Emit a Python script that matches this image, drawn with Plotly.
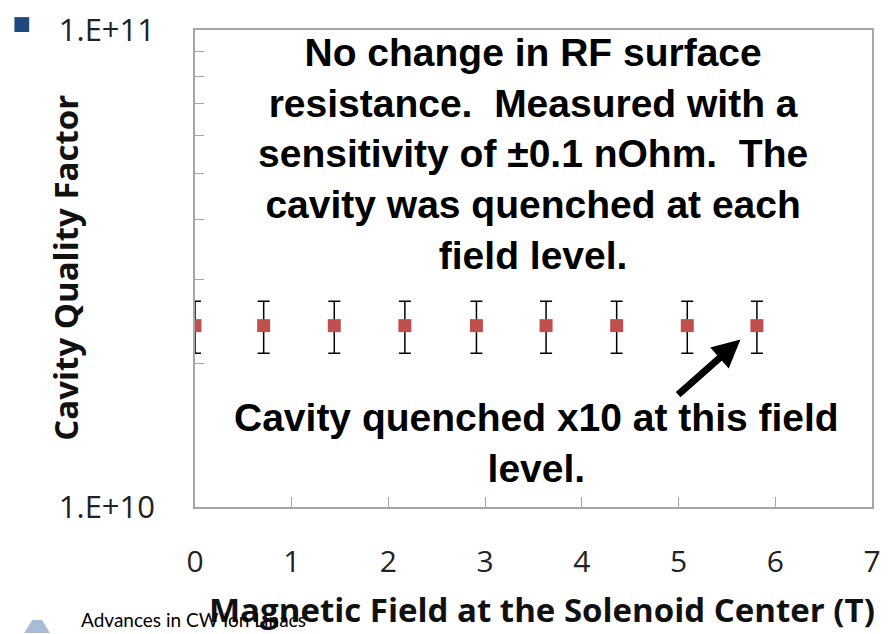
import plotly.graph_objects as go
import numpy as np

# Field at the solenoid centre (T) and measured cavity Q0
field_T = [0.0, 0.71, 1.44, 2.17, 2.91, 3.63, 4.36, 5.09, 5.81]
quality_factor = [2.4e10] * 9
q_error = [0.3e10] * 9

x_ticks = [0, 1, 2, 3, 4, 5, 6, 7]
y_ticks = [1e10, 1e11]
y_tick_labels = ["1.E+10", "1.E+11"]
y_minor = [2e10, 3e10, 4e10, 5e10, 6e10, 7e10, 8e10, 9e10]

note_main = ("No change in RF surface<br>resistance.  Measured with a<br>"
             "sensitivity of \u00b10.1 nOhm.  The<br>cavity was quenched at each<br>field level.")
note_quench = "Cavity quenched x10 at this field<br>level."

axis_grey = "#A6A6A6"
label_font = "'Open Sans', Lato, sans-serif"
note_font = "'Liberation Sans', Arial, sans-serif"

# plot-area size in pixels, used to place items outside the axes
PW, PH = 686, 481

fig = go.Figure()
fig.add_trace(go.Scatter(
    x=field_T, y=quality_factor, mode="markers",
    marker=dict(symbol="square", size=13, color="#C0504D"),
    error_y=dict(type="data", array=q_error, symmetric=True,
                 color="black", thickness=1.5, width=6),
    showlegend=False,
))

fig.update_layout(
    width=889, height=634,
    margin=dict(l=195, r=8, t=26, b=127),
    paper_bgcolor="white", plot_bgcolor="white",
    xaxis=dict(
        range=[0, 7], tickvals=x_ticks, ticks="inside", ticklen=10,
        tickcolor=axis_grey, linecolor=axis_grey, linewidth=1.5, mirror=True,
        showgrid=False, zeroline=False, ticklabelstandoff=27,
        tickfont=dict(family=label_font, size=30, color="#222"),
    ),
    yaxis=dict(
        type="log", range=[10, 11], tickvals=y_ticks, ticktext=y_tick_labels,
        ticks="", linecolor=axis_grey, linewidth=1.5, mirror=True,
        showgrid=False, zeroline=False, ticklabelstandoff=32,
        tickfont=dict(family=label_font, size=31, color="#222"),
        minor=dict(tickvals=y_minor, ticks="inside", ticklen=9,
                   tickcolor=axis_grey, showgrid=False),
    ),
)

# Axis titles
fig.add_annotation(
    x=(547 - 195) / PW, y=-(610 - 507) / PH, xref="paper", yref="paper",
    text="<b>Magnetic Field at the Solenoid Center (T)</b>", showarrow=False,
    xanchor="center", yanchor="middle",
    font=dict(family=label_font, size=33, color="#111"),
)
fig.add_annotation(
    x=(63 - 195) / PW, y=(507 - 266) / PH, xref="paper", yref="paper",
    text="<b>Cavity Quality Factor</b>", showarrow=False, textangle=-90,
    xanchor="center", yanchor="middle",
    font=dict(family=label_font, size=33, color="#111"),
)

# Text notes in the plot area
fig.add_annotation(
    x=(537 - 195) / PW, y=(507 - 151) / PH, xref="paper", yref="paper",
    text="<b>" + note_main + "</b>",
    showarrow=False, align="center", xanchor="center", yanchor="middle",
    font=dict(family=note_font, size=39, color="black"),
)
fig.add_annotation(
    x=(541 - 195) / PW, y=(507 - 442) / PH, xref="paper", yref="paper",
    text="<b>" + note_quench + "</b>",
    showarrow=False, align="center", xanchor="center", yanchor="middle",
    font=dict(family=note_font, size=39, color="black"),
)
# Arrow pointing at the last (quenched) field level
fig.add_annotation(
    x=5.64, y=np.log10(2.245e10), ax=4.98, ay=np.log10(1.71e10),
    xref="x", yref="y", axref="x", ayref="y", text="",
    showarrow=True, arrowhead=2, arrowsize=0.8, arrowwidth=7, arrowcolor="black",
)

# Slide bullet and footer
fig.add_shape(type="rect", xref="paper", yref="paper",
              x0=(12 - 195) / PW, x1=(27 - 195) / PW,
              y0=(507 - 13) / PH, y1=(507 - 28) / PH,
              fillcolor="#1F497D", line_width=0)
fig.add_shape(type="path", xref="paper", yref="paper",
              path=(f"M {(22 - 195) / PW} {-(634 - 507) / PH} "
                    f"L {(30 - 195) / PW} {-(621 - 507) / PH} "
                    f"L {(40 - 195) / PW} {-(621 - 507) / PH} "
                    f"L {(48 - 195) / PW} {-(634 - 507) / PH} Z"),
              fillcolor="#A9BCD5", line_width=0)
fig.add_annotation(
    x=(77 - 195) / PW, y=-(634 - 507) / PH, xref="paper", yref="paper",
    text="Advances in CW Ion Linacs", showarrow=False,
    xanchor="left", yanchor="bottom",
    font=dict(family="Lato, sans-serif", size=19, color="black"),
)

fig.write_html("out.html")
